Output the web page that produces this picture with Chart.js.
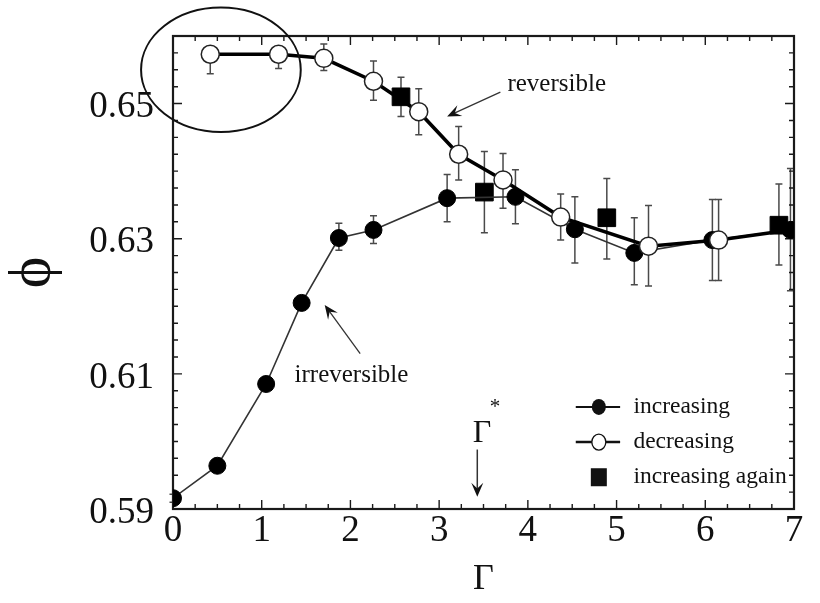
<!DOCTYPE html>
<html>
<head>
<meta charset="utf-8">
<script src="https://cdn.jsdelivr.net/npm/chart.js@4.4.0/dist/chart.umd.min.js"></script>
<style>
html, body { margin: 0; padding: 0; background: #fff; }
#wrap { width: 820px; height: 603px; }
</style>
</head>
<body>
<div id="wrap"><canvas id="chart"></canvas></div>
<script>
"use strict";
// packing fraction phi against tapping intensity Gamma
const incX = [0, 0.50, 1.05, 1.45, 1.87, 2.26, 3.09, 3.86, 4.53, 5.20, 6.08, 6.96];
const incY = [0.5916, 0.5964, 0.6085, 0.6205, 0.6301, 0.6313, 0.6360, 0.6362, 0.6314, 0.6279, 0.6298, 0.6313];
// error bars as [down, up]
const incErr = [[0.0006, 0.0006], [0.0006, 0.0006], [0.0006, 0.0006], [0.0006, 0.0006], [0.0018, 0.0022], [0.0020, 0.0021],
    [0.0035, 0.0035], [0.0040, 0.0040], [0.0050, 0.0048], [0.0047, 0.0052], [0.0060, 0.0060], [0.0090, 0.0091]];

// decreasing run starts from the last increasing point
const decX = [0.42, 1.19, 1.70, 2.26, 2.77, 3.22, 3.72, 4.37, 5.36, 6.15, 6.96];
const decY = [0.6573, 0.6573, 0.6567, 0.6533, 0.6488, 0.6425, 0.6387, 0.6332, 0.6289, 0.6298, 0.6313];
const decErr = [[0.0029, 0.0011], [0.0021, 0.0011], [0.0018, 0.0021], [0.0028, 0.0030], [0.0034, 0.0034], [0.0038, 0.0041],
    [0.0042, 0.0039], [0.0034, 0.0034], [0.0059, 0.0060], [0.0060, 0.0060], [0, 0]];

const againX = [2.57, 3.51, 4.89, 6.83];
const againY = [0.6510, 0.6369, 0.6331, 0.6320];
const againErr = [[0.0029, 0.0029], [0.0060, 0.0060], [0.0061, 0.0058], [0.0059, 0.0061]];

const xTicks = [0, 1, 2, 3, 4, 5, 6, 7];
const yTicks = [0.59, 0.61, 0.63, 0.65];

const SERIF = '"Liberation Serif", "DejaVu Serif", serif';

const toPoints = (xs, ys) => xs.map((x, i) => ({ x: x, y: ys[i] }));

const errorBars = {
    id: 'errorBars',
    beforeDatasetsDraw(chart) {
        const ctx = chart.ctx;
        const ys = chart.scales.y;
        ctx.save();
        ctx.strokeStyle = '#4a4a4a';
        ctx.lineWidth = 1.5;
        chart.data.datasets.forEach((ds, di) => {
            if (!ds.errorBars) return;
            const meta = chart.getDatasetMeta(di);
            meta.data.forEach((pt, i) => {
                const e = ds.errorBars[i];
                if (!e || (e[0] === 0 && e[1] === 0)) return;
                const v = ds.data[i].y;
                const top = ys.getPixelForValue(v + e[1]);
                const bot = ys.getPixelForValue(v - e[0]);
                ctx.beginPath();
                ctx.moveTo(pt.x, top); ctx.lineTo(pt.x, bot);
                ctx.moveTo(pt.x - 3.5, top); ctx.lineTo(pt.x + 3.5, top);
                ctx.moveTo(pt.x - 3.5, bot); ctx.lineTo(pt.x + 3.5, bot);
                ctx.stroke();
            });
        });
        ctx.restore();
    }
};

// box frame with inward ticks on all four sides
const frame = {
    id: 'frame',
    beforeDatasetsDraw(chart) {
        const { ctx, chartArea: a, scales: { x, y } } = chart;
        ctx.save();
        ctx.strokeStyle = '#1a1a1a';
        ctx.lineWidth = 1.4;
        ctx.beginPath();
        for (let v = 0; v <= 7.001; v += 0.25) {
            const px = x.getPixelForValue(v);
            const len = Math.abs(v - Math.round(v)) < 1e-6 ? 9 : 5;
            ctx.moveTo(px, a.bottom); ctx.lineTo(px, a.bottom - len);
            ctx.moveTo(px, a.top); ctx.lineTo(px, a.top + len);
        }
        for (let k = 0; k <= 28; k++) {
            const v = 0.59 + k * 0.0025;
            const py = y.getPixelForValue(v);
            const len = k % 8 === 0 ? 9 : 5;
            ctx.moveTo(a.left, py); ctx.lineTo(a.left + len, py);
            ctx.moveTo(a.right, py); ctx.lineTo(a.right - len, py);
        }
        ctx.stroke();
        ctx.lineWidth = 2.2;
        ctx.strokeRect(a.left, a.top, a.right - a.left, a.bottom - a.top);
        ctx.restore();
    }
};

function arrow(ctx, x1, y1, x2, y2, lw) {
    const ang = Math.atan2(y2 - y1, x2 - x1);
    const L = 14, W = 6;
    ctx.beginPath();
    ctx.lineWidth = lw;
    ctx.moveTo(x1, y1);
    ctx.lineTo(x2 - Math.cos(ang) * 8, y2 - Math.sin(ang) * 8);
    ctx.stroke();
    ctx.beginPath();
    ctx.moveTo(x2, y2);
    ctx.lineTo(x2 - Math.cos(ang) * L - Math.sin(ang) * W, y2 - Math.sin(ang) * L + Math.cos(ang) * W);
    ctx.lineTo(x2 - Math.cos(ang) * (L * 0.6), y2 - Math.sin(ang) * (L * 0.6));
    ctx.lineTo(x2 - Math.cos(ang) * L + Math.sin(ang) * W, y2 - Math.sin(ang) * L - Math.cos(ang) * W);
    ctx.closePath();
    ctx.fill();
}

const annotations = {
    id: 'annotations',
    afterDraw(chart) {
        const { ctx, scales: { x, y } } = chart;
        const px = v => x.getPixelForValue(v);
        const py = v => y.getPixelForValue(v);
        ctx.save();
        ctx.fillStyle = '#111';
        ctx.strokeStyle = '#111';

        // ellipse around the plateau
        ctx.lineWidth = 2;
        ctx.beginPath();
        ctx.ellipse(px(0.54), py(0.6550), px(0.90) - px(0), py(0.59) - py(0.5992), 0, 0, Math.PI * 2);
        ctx.stroke();

        ctx.font = '25px ' + SERIF;
        ctx.textBaseline = 'middle';
        ctx.textAlign = 'left';
        ctx.fillText('reversible', px(3.77), py(0.6529));
        ctx.strokeStyle = '#333';
        ctx.fillStyle = '#111';
        arrow(ctx, px(3.69), py(0.6517), px(3.09), py(0.6481), 1.3);

        ctx.fillText('irreversible', px(1.37), py(0.6097));
        arrow(ctx, px(2.11), py(0.6130), px(1.71), py(0.6202), 1.3);

        // Gamma* marker
        ctx.font = '32px ' + SERIF;
        ctx.fillText('\u0393', px(3.38), py(0.6012));
        ctx.font = '21px ' + SERIF;
        ctx.fillText('*', px(3.57), py(0.6050));
        arrow(ctx, px(3.43), py(0.5988), px(3.43), py(0.5918), 1.5);

        // legend
        const lx0 = px(4.54), lx1 = px(5.04), mx = px(4.80), tx = px(5.19);
        const rows = [py(0.6051), py(0.5999), py(0.5947)];
        ctx.strokeStyle = '#111';
        ctx.lineWidth = 2;
        ctx.beginPath(); ctx.moveTo(lx0, rows[0]); ctx.lineTo(lx1, rows[0]); ctx.stroke();
        ctx.beginPath(); ctx.ellipse(mx, rows[0], 7, 8, 0, 0, Math.PI * 2); ctx.fill();
        ctx.lineWidth = 2.5;
        ctx.beginPath(); ctx.moveTo(lx0, rows[1]); ctx.lineTo(lx1, rows[1]); ctx.stroke();
        ctx.fillStyle = '#fff';
        ctx.lineWidth = 1.3;
        ctx.beginPath(); ctx.ellipse(mx, rows[1], 7, 8, 0, 0, Math.PI * 2); ctx.fill(); ctx.stroke();
        ctx.fillStyle = '#111';
        ctx.fillRect(mx - 8, rows[2] - 9, 16, 18);
        ctx.font = '23.5px ' + SERIF;
        ctx.fillText('increasing', tx, rows[0]);
        ctx.fillText('decreasing', tx, rows[1]);
        ctx.fillText('increasing again', tx, rows[2]);
        ctx.restore();
    }
};

document.addEventListener('DOMContentLoaded', () => {
    const ctx = document.getElementById('chart').getContext('2d');
    new Chart(ctx, {
        type: 'scatter',
        data: {
            datasets: [
                {
                    label: 'decreasing',
                    data: toPoints(decX, decY),
                    errorBars: decErr,
                    showLine: true,
                    borderColor: '#000',
                    borderWidth: 3.5,
                    pointRadius: decX.map((_, i) => i === decX.length - 1 ? 0 : 9),
                    pointBackgroundColor: '#fff',
                    pointBorderColor: '#222',
                    pointBorderWidth: 1.5,
                    order: 1
                },
                {
                    label: 'increasing',
                    data: toPoints(incX, incY),
                    errorBars: incErr,
                    showLine: true,
                    borderColor: '#333',
                    borderWidth: 1.6,
                    pointRadius: 8.5,
                    pointBackgroundColor: '#000',
                    pointBorderColor: '#000',
                    pointBorderWidth: 1,
                    order: 2
                },
                {
                    label: 'increasing again',
                    data: toPoints(againX, againY),
                    errorBars: againErr,
                    showLine: false,
                    pointStyle: 'rect',
                    pointRadius: 12.5,
                    pointBackgroundColor: '#000',
                    pointBorderColor: '#000',
                    pointBorderWidth: 1,
                    order: 3
                }
            ]
        },
        options: {
            responsive: true,
            maintainAspectRatio: false,
            animation: false,
            events: [],
            layout: { padding: { left: 0, right: 26, top: 36, bottom: 0 } },
            plugins: {
                legend: { display: false },
                tooltip: { enabled: false }
            },
            scales: {
                x: {
                    type: 'linear',
                    min: 0,
                    max: 7,
                    afterBuildTicks: s => { s.ticks = xTicks.map(v => ({ value: v })); },
                    afterFit: s => { s.height = 94; },
                    grid: { display: false },
                    border: { display: false },
                    ticks: {
                        color: '#111',
                        font: { family: SERIF, size: 37 },
                        padding: -8,
                        maxRotation: 0,
                        autoSkip: false
                    },
                    title: {
                        display: true,
                        text: '\u0393',
                        color: '#111',
                        font: { family: SERIF, size: 36, lineHeight: 1 },
                        padding: { top: 0, bottom: 5 }
                    }
                },
                y: {
                    type: 'linear',
                    min: 0.59,
                    max: 0.66,
                    afterBuildTicks: s => { s.ticks = yTicks.map(v => ({ value: v })); },
                    afterFit: s => { s.width = 173; },
                    grid: { display: false },
                    border: { display: false },
                    ticks: {
                        color: '#111',
                        font: { family: SERIF, size: 37 },
                        padding: 11,
                        labelOffset: 4,
                        callback: v => v.toFixed(2)
                    },
                    title: {
                        display: true,
                        text: '\u03d5',
                        color: '#111',
                        font: { family: SERIF, size: 60, lineHeight: 1 },
                        padding: { top: 3, bottom: 0 }
                    }
                }
            }
        },
        plugins: [errorBars, frame, annotations]
    });
});
</script>
</body>
</html>
